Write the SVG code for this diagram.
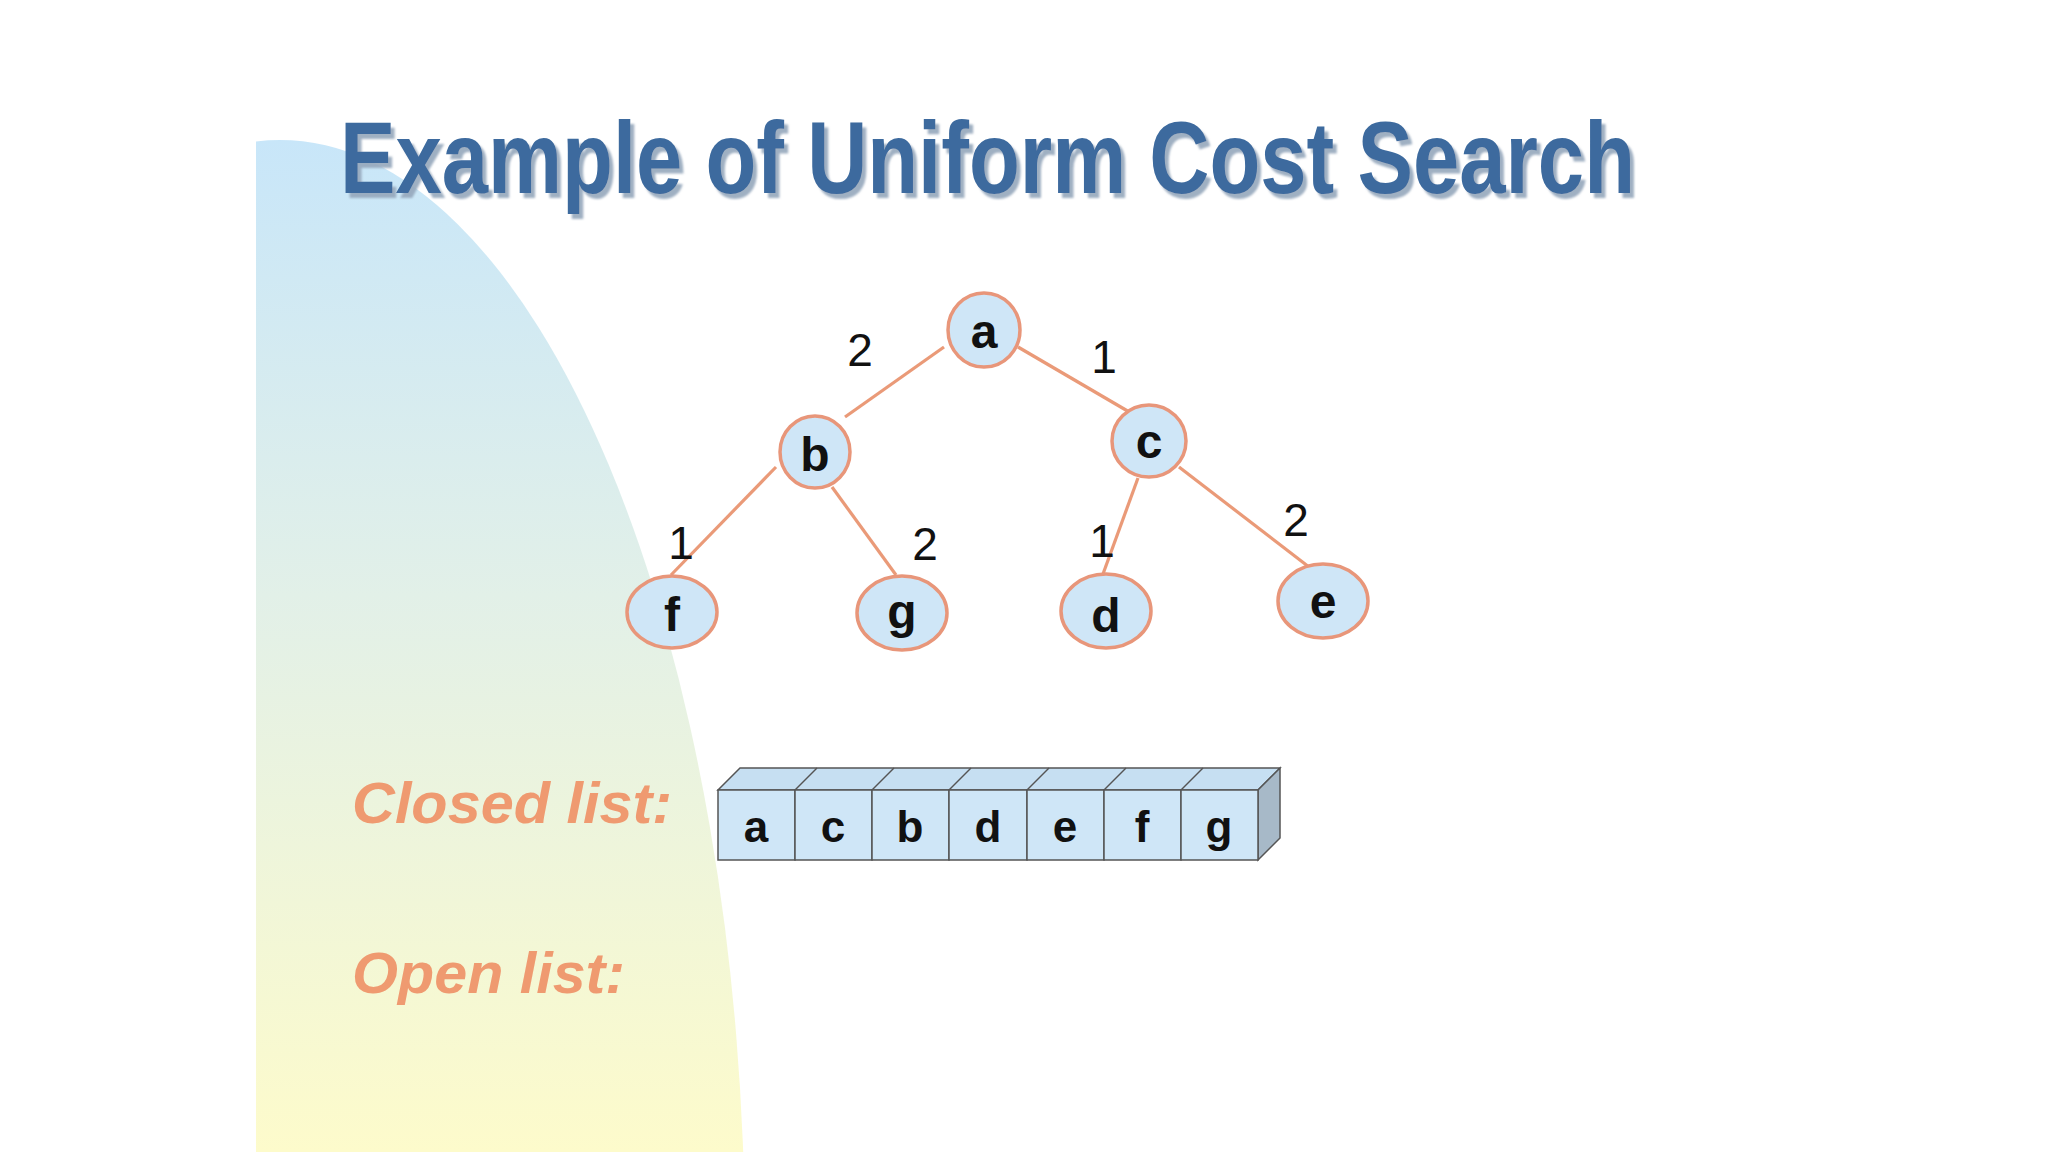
<svg xmlns="http://www.w3.org/2000/svg" width="2048" height="1152" viewBox="0 0 2048 1152">
  <defs>
    <linearGradient id="bgGrad" x1="0" y1="140" x2="0" y2="1152" gradientUnits="userSpaceOnUse">
      <stop offset="0" stop-color="#c8e6f9"/>
      <stop offset="0.45" stop-color="#e2f0e8"/>
      <stop offset="1" stop-color="#fdfbcb"/>
    </linearGradient>
    <clipPath id="bgClip">
      <rect x="256" y="0" width="1792" height="1152"/>
    </clipPath>
    <filter id="shadow" x="-5%" y="-20%" width="110%" height="150%">
      <feDropShadow dx="4" dy="5" stdDeviation="1.2" flood-color="#95a7bb" flood-opacity="0.9"/>
    </filter>
  </defs>
  <style>
    .title { font-family: "Liberation Sans", Arial, sans-serif; font-weight: bold; font-size: 102px; fill: #3c6a9e; }
    .node ellipse { fill: #cfe6f7; stroke: #e8967a; stroke-width: 3.5; }
    .node text { font-family: "Liberation Sans", Arial, sans-serif; font-weight: bold; font-size: 48px; fill: #111; text-anchor: middle; }
    .edge { stroke: #ea9a78; stroke-width: 3.2; fill: none; }
    .wt { font-family: "Liberation Sans", Arial, sans-serif; font-size: 46px; fill: #111; text-anchor: middle; }
    .lbl { font-family: "Liberation Sans", Arial, sans-serif; font-weight: bold; font-style: italic; font-size: 58px; fill: #ef9a70; }
    .cell { fill: #cfe6f7; stroke: #555; stroke-width: 1.5; }
    .top { fill: #c6dff2; stroke: #555; stroke-width: 1.5; }
    .side { fill: #a7b9c8; stroke: #555; stroke-width: 1.5; }
    .div { stroke: #555; stroke-width: 1.5; }
    .ct { font-family: "Liberation Sans", Arial, sans-serif; font-weight: bold; font-size: 44px; fill: #111; text-anchor: middle; }
  </style>

  <rect x="0" y="0" width="2048" height="1152" fill="#ffffff"/>
  <ellipse cx="280" cy="1250" rx="465" ry="1110" fill="url(#bgGrad)" clip-path="url(#bgClip)"/>

  <g id="title">
    <text class="title" x="340" y="193" textLength="1295" lengthAdjust="spacingAndGlyphs" filter="url(#shadow)">Example of Uniform Cost Search</text>
  </g>

  <g id="connectors">
    <line class="edge" x1="944" y1="347" x2="845" y2="417"/>
    <line class="edge" x1="1018" y1="347" x2="1131" y2="413"/>
    <line class="edge" x1="776" y1="467" x2="671" y2="575"/>
    <line class="edge" x1="832" y1="487" x2="896" y2="575"/>
    <line class="edge" x1="1138" y1="478" x2="1103" y2="574"/>
    <line class="edge" x1="1179" y1="467" x2="1309" y2="567"/>
    <text class="wt" x="860" y="366">2</text>
    <text class="wt" x="1104" y="373">1</text>
    <text class="wt" x="681" y="559">1</text>
    <text class="wt" x="925" y="560">2</text>
    <text class="wt" x="1102" y="557">1</text>
    <text class="wt" x="1296" y="536">2</text>
  </g>

  <g id="node-a" class="node"><ellipse cx="984" cy="330" rx="36" ry="37"/><text x="984" y="348">a</text></g>
  <g id="node-b" class="node"><ellipse cx="815" cy="452" rx="35" ry="36"/><text x="815" y="471">b</text></g>
  <g id="node-c" class="node"><ellipse cx="1149" cy="441" rx="37" ry="36"/><text x="1149" y="458">c</text></g>
  <g id="node-f" class="node"><ellipse cx="672" cy="612" rx="45" ry="36"/><text x="672" y="631">f</text></g>
  <g id="node-g" class="node"><ellipse cx="902" cy="613" rx="45" ry="37"/><text x="902" y="628">g</text></g>
  <g id="node-d" class="node"><ellipse cx="1106" cy="611" rx="45" ry="37"/><text x="1106" y="632">d</text></g>
  <g id="node-e" class="node"><ellipse cx="1323" cy="601" rx="45" ry="37"/><text x="1323" y="618">e</text></g>

  <g id="closed-label"><text class="lbl" x="352" y="823" textLength="320" lengthAdjust="spacingAndGlyphs">Closed list:</text></g>
  <g id="open-label"><text class="lbl" x="352" y="993" textLength="273" lengthAdjust="spacingAndGlyphs">Open list:</text></g>

  <g id="closed-list">
    <polygon class="top" points="718,790 740,768 1280,768 1258,790"/>
    <polygon class="side" points="1258,790 1280,768 1280,838 1258,860"/>
    <line class="div" x1="795" y1="790" x2="817" y2="768"/>
    <line class="div" x1="872" y1="790" x2="894" y2="768"/>
    <line class="div" x1="949" y1="790" x2="971" y2="768"/>
    <line class="div" x1="1027" y1="790" x2="1049" y2="768"/>
    <line class="div" x1="1104" y1="790" x2="1126" y2="768"/>
    <line class="div" x1="1181" y1="790" x2="1203" y2="768"/>
    <rect class="cell" x="718" y="790" width="77" height="70"/>
    <rect class="cell" x="795" y="790" width="77" height="70"/>
    <rect class="cell" x="872" y="790" width="77" height="70"/>
    <rect class="cell" x="949" y="790" width="78" height="70"/>
    <rect class="cell" x="1027" y="790" width="77" height="70"/>
    <rect class="cell" x="1104" y="790" width="77" height="70"/>
    <rect class="cell" x="1181" y="790" width="77" height="70"/>
    <text class="ct" x="756" y="842">a</text>
    <text class="ct" x="833" y="842">c</text>
    <text class="ct" x="910" y="842">b</text>
    <text class="ct" x="988" y="842">d</text>
    <text class="ct" x="1065" y="842">e</text>
    <text class="ct" x="1142" y="842">f</text>
    <text class="ct" x="1219" y="842">g</text>
  </g>
</svg>
